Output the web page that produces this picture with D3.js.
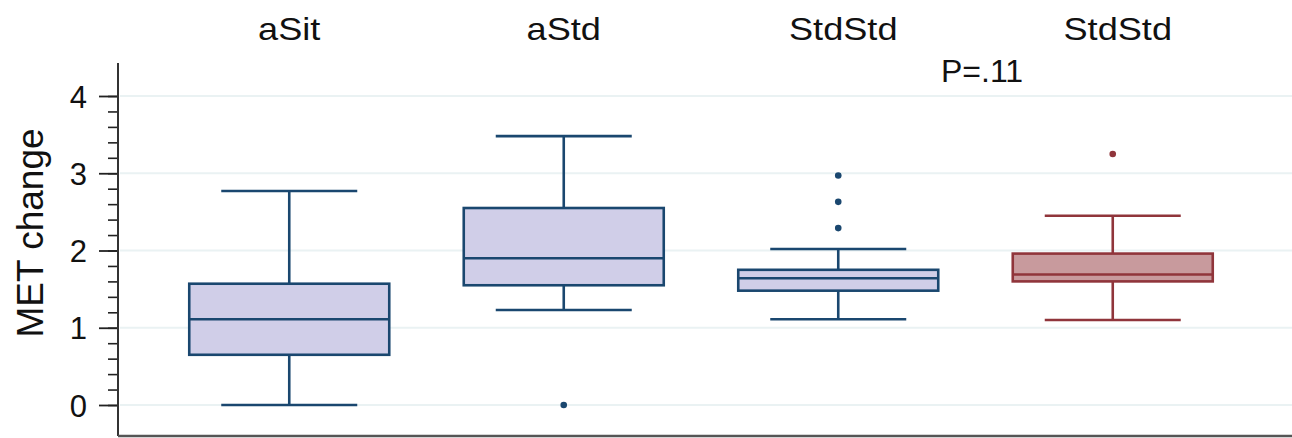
<!DOCTYPE html>
<html>
<head>
<meta charset="utf-8">
<script src="https://cdn.jsdelivr.net/npm/d3@7"></script>
<style>
  body { margin: 0; background: #fff; }
  svg { display: block; font-family: "Liberation Sans", Arial, Helvetica, sans-serif; }
</style>
</head>
<body>
<svg id="chart" width="1292" height="438"></svg>
<script>
// groups shown across the top
const groups = ['aSit', 'aStd', 'StdStd', 'StdStd'];
// box stats: [lower whisker, q1, median, q3, upper whisker]
const lowWhisker = [0.00, 1.23, 1.11, 1.10];
const q1 = [0.65, 1.55, 1.48, 1.60];
const median = [1.11, 1.90, 1.64, 1.69];
const q3 = [1.57, 2.55, 1.75, 1.96];
const highWhisker = [2.77, 3.48, 2.02, 2.45];
const outliers = [[], [0.00], [2.29, 2.63, 2.97], [3.25]];
const yTicks = [0, 1, 2, 3, 4];
const pLabel = 'P=.11';

const svg = d3.select('#chart');
const W = 1292, H = 438;
const axisX = 118, bottomY = 436;

const y = d3.scaleLinear().domain([0, 4]).range([405, 96]);
const x = d3.scaleBand().domain(d3.range(groups.length)).range([152, 1250]);
const boxW = 200, capW = 136;

const stroke = i => i === 3 ? '#90353b' : '#1a476f';
const fill = i => i === 3 ? '#c89a9d' : '#d0cee8';

// gridlines
svg.append('g').selectAll('line').data(yTicks).enter().append('line')
  .attr('x1', axisX + 2).attr('x2', W)
  .attr('y1', d => y(d)).attr('y2', d => y(d))
  .attr('stroke', '#eaf2f3').attr('stroke-width', 2);

// y axis with minor ticks
const yAxis = svg.append('g').attr('transform', `translate(${axisX},0)`);
yAxis.call(d3.axisLeft(y).tickValues(d3.range(0, 4.01, 0.2)).tickSize(10).tickFormat(''))
  .call(g => g.select('.domain').remove())
  .selectAll('line').attr('stroke', '#222').attr('stroke-width', 1.6);
yAxis.append('g')
  .call(d3.axisLeft(y).tickValues(yTicks).tickSize(19).tickPadding(12).tickFormat(d3.format('d')))
  .call(g => g.select('.domain').remove())
  .call(g => g.selectAll('line').attr('stroke', '#222').attr('stroke-width', 1.8))
  .call(g => g.selectAll('text').attr('fill', '#111').attr('dy', '0.36em').style('font-size', '31px')
    .style('font-family', '"Liberation Sans", Arial, sans-serif'));
svg.append('line').attr('x1', axisX).attr('x2', axisX).attr('y1', 63).attr('y2', bottomY)
  .attr('stroke', '#333').attr('stroke-width', 2);
svg.append('line').attr('x1', axisX).attr('x2', W).attr('y1', bottomY).attr('y2', bottomY)
  .attr('stroke', '#555').attr('stroke-width', 2.5);

svg.append('text').attr('transform', 'translate(43,233) rotate(-90)')
  .attr('text-anchor', 'middle').style('font-size', '37px').attr('fill', '#111')
  .text('MET change');

// group titles
svg.append('g').selectAll('text').data(groups).enter().append('text')
  .attr('transform', (d, i) => `translate(${x(i) + x.bandwidth() / 2 + (i >= 2 ? 5 : 0)},40) scale(1.13,1)`)
  .attr('text-anchor', 'middle').style('font-size', '32px').attr('fill', '#111')
  .text(d => d);

svg.append('text').attr('x', 941).attr('y', 82).style('font-size', '32px').attr('fill', '#111')
  .text(pLabel);

// boxes
const boxes = svg.append('g').selectAll('g').data(groups).enter().append('g')
  .attr('transform', (d, i) => `translate(${x(i) + x.bandwidth() / 2},0)`);

boxes.append('line').attr('x1', 0).attr('x2', 0)
  .attr('y1', (d, i) => y(highWhisker[i])).attr('y2', (d, i) => y(q3[i]))
  .attr('stroke', (d, i) => stroke(i)).attr('stroke-width', 2.6);
boxes.append('line').attr('x1', 0).attr('x2', 0)
  .attr('y1', (d, i) => y(q1[i])).attr('y2', (d, i) => y(lowWhisker[i]))
  .attr('stroke', (d, i) => stroke(i)).attr('stroke-width', 2.6);
[highWhisker, lowWhisker].forEach(arr => {
  boxes.append('line').attr('x1', -capW / 2).attr('x2', capW / 2)
    .attr('y1', (d, i) => y(arr[i])).attr('y2', (d, i) => y(arr[i]))
    .attr('stroke', (d, i) => stroke(i)).attr('stroke-width', 2.6);
});
boxes.append('rect').attr('x', -boxW / 2).attr('width', boxW)
  .attr('y', (d, i) => y(q3[i])).attr('height', (d, i) => y(q1[i]) - y(q3[i]))
  .attr('fill', (d, i) => fill(i)).attr('stroke', (d, i) => stroke(i)).attr('stroke-width', 2.6);
boxes.append('line').attr('x1', -boxW / 2).attr('x2', boxW / 2)
  .attr('y1', (d, i) => y(median[i])).attr('y2', (d, i) => y(median[i]))
  .attr('stroke', (d, i) => stroke(i)).attr('stroke-width', 2.6);
boxes.each(function (d, i) {
  d3.select(this).selectAll('circle').data(outliers[i]).enter().append('circle')
    .attr('cx', 0).attr('cy', v => y(v)).attr('r', 3.3).attr('fill', stroke(i));
});
</script>
</body>
</html>
